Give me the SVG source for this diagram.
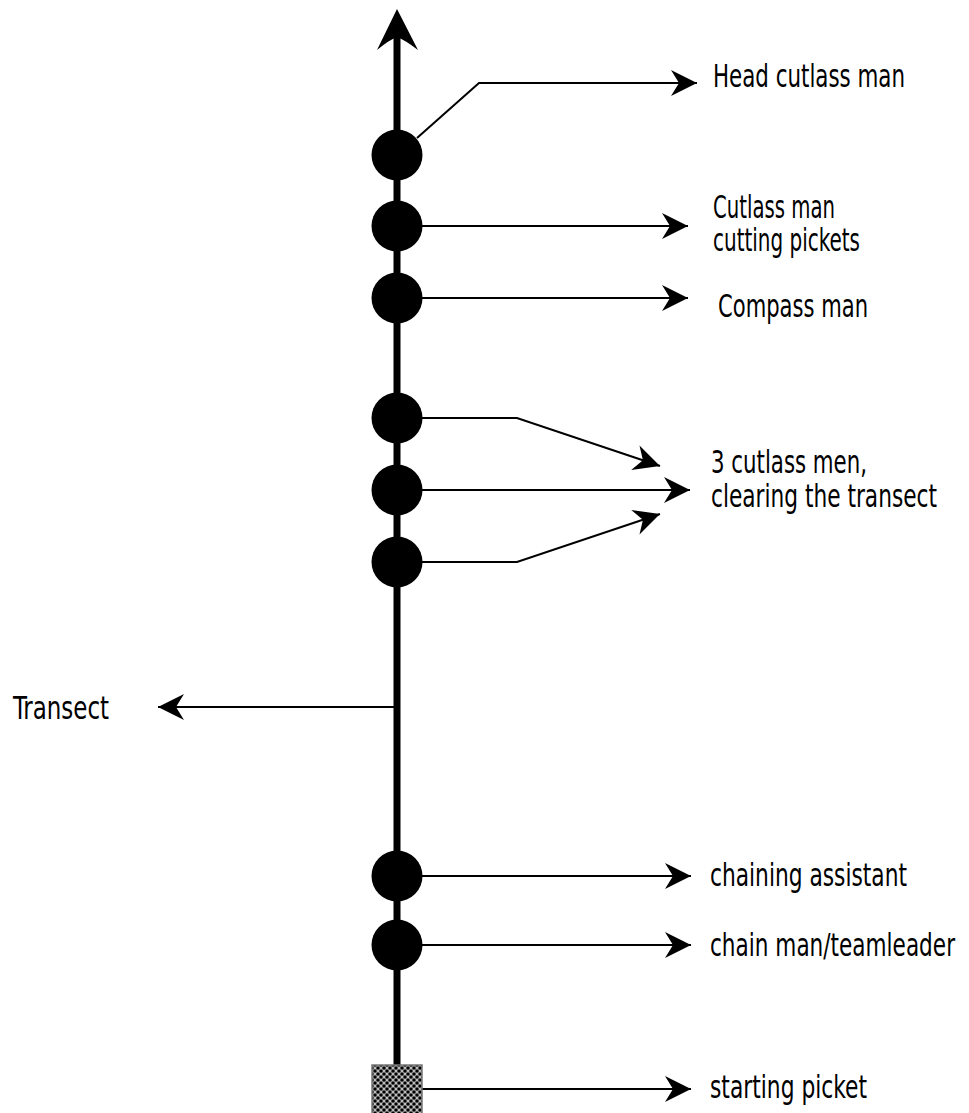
<svg xmlns="http://www.w3.org/2000/svg" width="969" height="1113" viewBox="0 0 969 1113">
<style>
.lbl{font-family:"Liberation Sans Narrow","DejaVu Sans Condensed","Liberation Sans",sans-serif;font-size:32px;fill:#000}
.con{fill:none;stroke:#000;stroke-width:2}
.dot{fill:#000}
</style>
<defs>
<marker id="ah" markerUnits="userSpaceOnUse" markerWidth="30" markerHeight="28" refX="26" refY="13" orient="auto" overflow="visible">
<path d="M0,0 L26,13 L0,26 L8,13 Z" fill="#000"/>
</marker>
<pattern id="hatch" width="6" height="6" patternUnits="userSpaceOnUse">
<rect width="6" height="6" fill="#8a8a8a"/>
<circle cx="0" cy="0" r="1.6" fill="#000"/>
<circle cx="6" cy="0" r="1.6" fill="#000"/>
<circle cx="0" cy="6" r="1.6" fill="#000"/>
<circle cx="6" cy="6" r="1.6" fill="#000"/>
<circle cx="3" cy="3" r="1.6" fill="#000"/>
<circle cx="3" cy="0" r="0.8" fill="#fff"/>
<circle cx="0" cy="3" r="0.8" fill="#fff"/>
<circle cx="6" cy="3" r="0.8" fill="#fff"/>
<circle cx="3" cy="6" r="0.8" fill="#fff"/>
</pattern>
</defs>

<g id="transect-line">
<line x1="397" y1="36" x2="397" y2="1113" stroke="#000" stroke-width="7"/>
<path d="M397,9 L418,50 Q405,40 397,37 Q389,40 377,50 Z" fill="#000"/>
</g>

<g id="connectors">
<polyline class="con" points="417,138 479,83 697,83" marker-end="url(#ah)"/>
<line class="con" x1="422" y1="226" x2="688" y2="226" marker-end="url(#ah)"/>
<line class="con" x1="422" y1="298" x2="688" y2="298" marker-end="url(#ah)"/>
<polyline class="con" points="422,418 517,418 660,466" marker-end="url(#ah)"/>
<line class="con" x1="422" y1="490" x2="690" y2="490" marker-end="url(#ah)"/>
<polyline class="con" points="422,562 517,562 660,514" marker-end="url(#ah)"/>
<line class="con" x1="394" y1="707" x2="158" y2="707" marker-end="url(#ah)"/>
<line class="con" x1="422" y1="876" x2="691" y2="876" marker-end="url(#ah)"/>
<line class="con" x1="422" y1="945" x2="691" y2="945" marker-end="url(#ah)"/>
<line class="con" x1="422" y1="1089" x2="691" y2="1089" marker-end="url(#ah)"/>
</g>

<g id="head-cutlass-man"><circle class="dot" cx="397" cy="155" r="25.5"/>
<text class="lbl" x="713" y="87" textLength="192" lengthAdjust="spacingAndGlyphs">Head cutlass man</text></g>
<g id="cutlass-man-pickets"><circle class="dot" cx="397" cy="226" r="25.5"/>
<text class="lbl" x="713" y="218" textLength="122" lengthAdjust="spacingAndGlyphs">Cutlass man</text>
<text class="lbl" x="713" y="251" textLength="147" lengthAdjust="spacingAndGlyphs">cutting pickets</text></g>
<g id="compass-man"><circle class="dot" cx="397" cy="298" r="25.5"/>
<text class="lbl" x="718" y="317" textLength="150" lengthAdjust="spacingAndGlyphs">Compass man</text></g>
<g id="clearing-men">
<circle class="dot" cx="397" cy="418" r="25.5"/>
<circle class="dot" cx="397" cy="490" r="25.5"/>
<circle class="dot" cx="397" cy="562" r="25.5"/>
<text class="lbl" x="711" y="473" textLength="156" lengthAdjust="spacingAndGlyphs">3 cutlass men,</text>
<text class="lbl" x="711" y="507" textLength="226" lengthAdjust="spacingAndGlyphs">clearing the transect</text></g>
<g id="transect"><text class="lbl" x="13" y="719" textLength="96" lengthAdjust="spacingAndGlyphs">Transect</text></g>
<g id="chaining-assistant"><circle class="dot" cx="397" cy="876" r="25.5"/>
<text class="lbl" x="710" y="886" textLength="197" lengthAdjust="spacingAndGlyphs">chaining assistant</text></g>
<g id="chain-man"><circle class="dot" cx="397" cy="945" r="25.5"/>
<text class="lbl" x="710" y="956" textLength="245" lengthAdjust="spacingAndGlyphs">chain man/teamleader</text></g>
<g id="starting-picket"><rect x="372" y="1065" width="50" height="50" fill="url(#hatch)" stroke="#777" stroke-width="1.5"/>
<text class="lbl" x="710" y="1098" textLength="157" lengthAdjust="spacingAndGlyphs">starting picket</text></g>
</svg>
